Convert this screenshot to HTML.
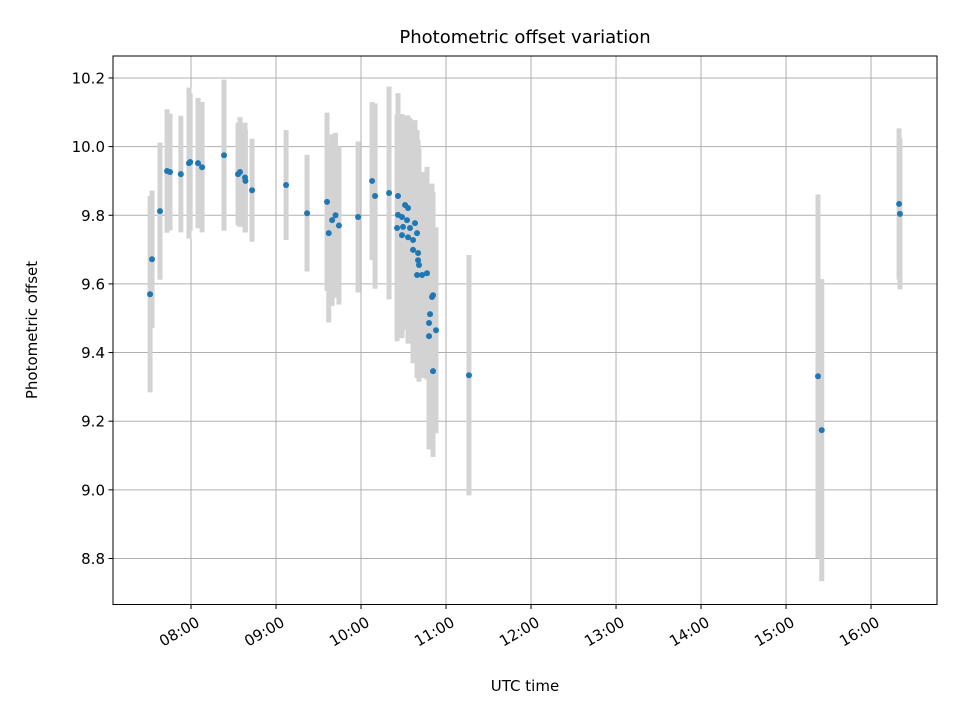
<!DOCTYPE html>
<html><head><meta charset="utf-8"><style>
body{margin:0;background:#fff}
svg text{font-family:"DejaVu Sans","Liberation Sans",sans-serif;fill:#000}
</style></head><body>
<svg id="chart" width="960" height="720" viewBox="0 0 960 720" xmlns="http://www.w3.org/2000/svg">
<rect width="960" height="720" fill="#fff"/>
<g id="grid"></g>
<g id="bars"></g>
<g id="pts"></g>
<rect x="113" y="56" width="824" height="548.5" fill="none" stroke="#000" stroke-width="1"/>
<g id="axes"></g>
<text x="525" y="43" font-size="18" text-anchor="middle">Photometric offset variation</text>
<text x="525" y="691" font-size="15" text-anchor="middle">UTC time</text>
<text x="37" y="330" font-size="15" text-anchor="middle" transform="rotate(-90 37 330)">Photometric offset</text>
</svg>
<script>
const times=[7.518,7.541,7.635,7.718,7.753,7.88,7.976,7.99,8.082,8.13,8.388,8.553,8.576,8.635,8.64,8.718,9.118,9.365,9.6,9.62,9.66,9.7,9.74,9.965,10.13,10.165,10.33,10.435,
10.518,10.553,10.435,10.482,10.541,10.635,10.424,10.494,10.576,10.659,10.482,10.553,10.612,10.612,10.671,10.671,10.682,10.659,10.718,10.776,10.835,10.847,10.812,10.8,10.882,10.8,10.847,
11.27,15.376,15.42,16.33,16.34];
const values=[9.570,9.672,9.812,9.929,9.926,9.92,9.952,9.955,9.952,9.94,9.975,9.92,9.926,9.91,9.9,9.873,9.888,9.806,9.839,9.748,9.786,9.8,9.77,9.795,9.9,9.856,9.865,9.856,
9.830,9.821,9.801,9.795,9.786,9.777,9.763,9.766,9.763,9.748,9.742,9.736,9.728,9.699,9.690,9.669,9.655,9.626,9.626,9.631,9.562,9.567,9.512,9.486,9.465,9.448,9.346,
9.334,9.331,9.174,9.833,9.804];
const errors=[0.286,0.2,0.2,0.18,0.17,0.17,0.22,0.2,0.19,0.19,0.22,0.15,0.16,0.16,0.15,0.15,0.16,0.17,0.26,0.26,0.25,0.24,0.23,0.22,0.23,0.27,0.31,0.3,
0.26,0.27,0.3,0.3,0.3,0.3,0.33,0.3,0.32,0.3,0.3,0.31,0.32,0.33,0.33,0.34,0.34,0.3,0.3,0.31,0.33,0.3,0.35,0.32,0.3,0.33,0.25,
0.35,0.53,0.44,0.22,0.22];
const xTicks=[8,9,10,11,12,13,14,15,16];
const xTickLabels=["08:00","09:00","10:00","11:00","12:00","13:00","14:00","15:00","16:00"];
const yTicks=[8.8,9.0,9.2,9.4,9.6,9.8,10.0,10.2];
const yTickLabels=["8.8","9.0","9.2","9.4","9.6","9.8","10.0","10.2"];

const X0=113,X1=937,Y0=56,Y1=604.5;
const tMin=7.082,tMax=16.776,vMin=8.666,vMax=10.264;
const sx=t=>X0+(t-tMin)/(tMax-tMin)*(X1-X0);
const sy=v=>Y1-(v-vMin)/(vMax-vMin)*(Y1-Y0);
const NS="http://www.w3.org/2000/svg";
function mk(tag,attrs,parent){const e=document.createElementNS(NS,tag);for(const k in attrs)e.setAttribute(k,attrs[k]);parent.appendChild(e);return e;}
const grid=document.getElementById('grid'),axes=document.getElementById('axes'),bars=document.getElementById('bars'),pts=document.getElementById('pts');
xTicks.forEach((t,i)=>{const x=sx(t);
 const g=mk('line',{x1:x,x2:x,y1:Y0,y2:Y1,stroke:'#b0b0b0','stroke-width':1},grid);
 
 
 const tk=mk('line',{x1:x,x2:x,y1:Y1,y2:Y1+4.5,stroke:'#000','stroke-width':1},axes);
 
 
 const tx=mk('text',{x:x+4,y:Y1+11,'font-size':15,'text-anchor':'end',transform:`rotate(-30 ${x+4} ${Y1+11})`},axes);
 
 
 tx.setAttribute('dominant-baseline','hanging');
 tx.textContent=xTickLabels[i];
});
yTicks.forEach((v,i)=>{const y=sy(v);
 const g=mk('line',{x1:X0,x2:X1,y1:y,y2:y,stroke:'#b0b0b0','stroke-width':1},grid);
 
 
 const tk=mk('line',{x1:X0-4.5,x2:X0,y1:y,y2:y,stroke:'#000','stroke-width':1},axes);
 
 
 const tx=mk('text',{x:X0-8,y:y+5.5,'font-size':15,'text-anchor':'end'},axes);
 
 
 tx.textContent=yTickLabels[i];
});
times.forEach((t,i)=>{const x=sx(t);
 const b=mk('line',{x1:x,x2:x,y1:sy(values[i]+errors[i]),y2:sy(values[i]-errors[i]),stroke:'#d3d3d3','stroke-width':5},bars);
 
 
});
times.forEach((t,i)=>{
 const c=mk('circle',{cx:sx(t),cy:sy(values[i]),r:3,fill:'#1f77b4'},pts);
 
 
});
</script>
</body></html>
